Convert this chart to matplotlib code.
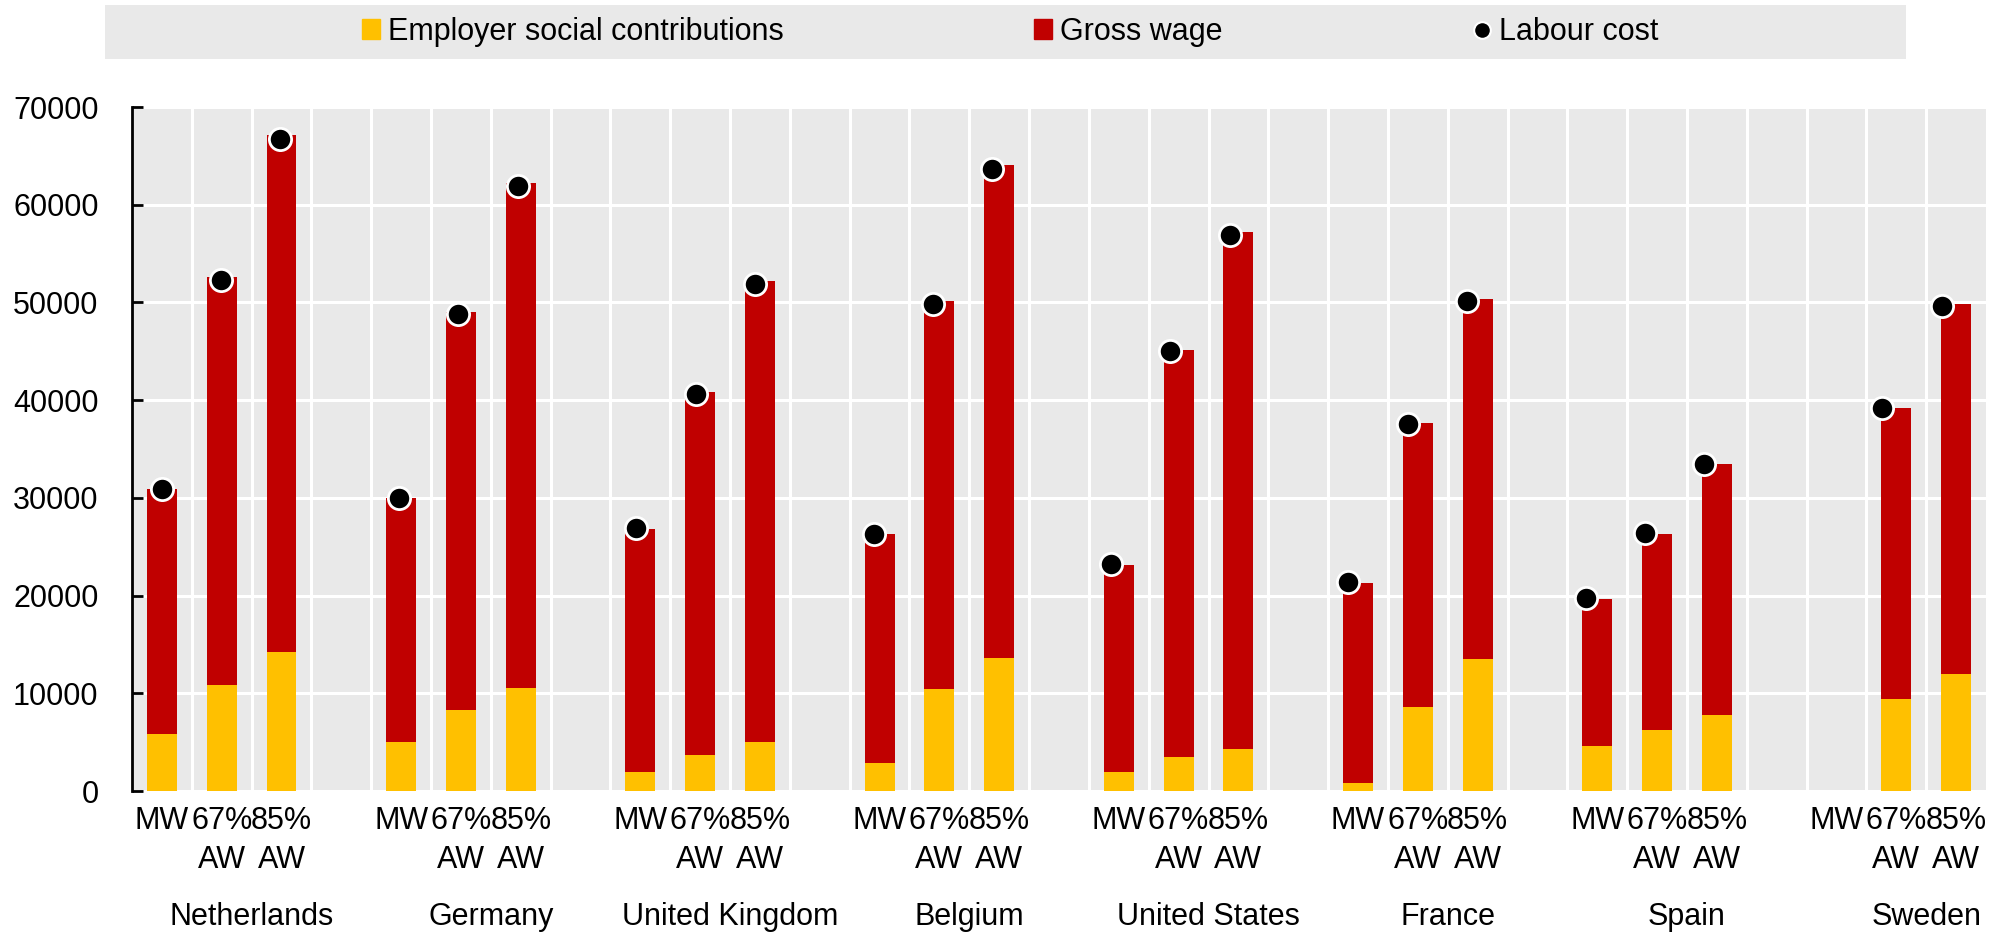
import numpy as np
import matplotlib
matplotlib.use('Agg')
from matplotlib import pyplot as plt
from matplotlib.patches import Patch, Rectangle
from matplotlib.lines import Line2D

# no Arial Narrow here, Liberation Sans is the closest look
plt.rcParams['font.family'] = ['Liberation Sans', 'DejaVu Sans']
plt.rcParams['font.size'] = 22

countries = ['Netherlands', 'Germany', 'United Kingdom', 'Belgium',
             'United States', 'France', 'Spain', 'Sweden']
levels = ['MW', '67%\nAW', '85%\nAW']

# values per wage level, one entry per country (Sweden has no minimum wage)
employer_mw = [5830, 5050, 1980, 2900, 1910, 850, 4640, np.nan]
employer_67 = [10850, 8290, 3680, 10410, 3510, 8600, 6210, 9450]
employer_85 = [14260, 10510, 5050, 13650, 4330, 13480, 7810, 11980]

gross_mw = [25090, 24950, 24850, 23420, 21270, 20450, 15020, np.nan]
gross_67 = [41720, 40740, 37130, 39710, 41660, 29070, 20140, 29790]
gross_85 = [52900, 51710, 47110, 50380, 52880, 36840, 25630, 37830]

labour_mw = [30920, 30000, 26930, 26350, 23280, 21400, 19800, np.nan]
labour_67 = [52330, 48820, 40670, 49880, 45040, 37600, 26420, 39210]
labour_85 = [66750, 61950, 51920, 63650, 56930, 50120, 33480, 49610]

YELLOW = '#FFC000'
RED = '#C00000'
GREY = '#E9E9E9'

# each country gets 4 slots: MW, 67% AW, 85% AW, gap
employer = np.array([employer_mw, employer_67, employer_85]).T.ravel()
gross = np.array([gross_mw, gross_67, gross_85]).T.ravel()
labour = np.array([labour_mw, labour_67, labour_85]).T.ravel()
x = np.array([4 * g + k for g in range(len(countries)) for k in range(3)])
xlabels = levels * len(countries)

fig = plt.figure(figsize=(19.96, 9.34), dpi=100)
ax = fig.add_axes([0.0661, 0.1531, 0.9289, 0.7323])
ax.set_facecolor(GREY)

ax.bar(x, employer, width=0.5, color=YELLOW, zorder=2)
ax.bar(x, gross, width=0.5, bottom=employer, color=RED, zorder=2)

ax.set_xlim(-0.5, 30.5)
ax.set_ylim(0, 70000)
ax.set_yticks(np.arange(0, 70001, 10000))
ax.set_xticks(x)
ax.set_xticklabels(xlabels)
for t in ax.get_xticklabels():
    t.set_linespacing(1.4)
ax.set_xticks(np.arange(0.5, 30.5, 1), minor=True)

ax.set_axisbelow(True)
ax.grid(axis='y', color='white', lw=2.2)
ax.grid(axis='x', which='minor', color='white', lw=2.2)

for s in ['top', 'right', 'bottom']:
    ax.spines[s].set_visible(False)
ax.spines['left'].set_linewidth(2)
ax.tick_params(axis='y', direction='in', length=8, width=2, pad=24)
ax.tick_params(axis='x', which='both', length=0, pad=11)

for g, name in enumerate(countries):
    ax.text(4 * g + 1.5, -0.162, name, transform=ax.get_xaxis_transform(),
            ha='center', va='top')

# labour cost dots sit on a slightly offset scale in the original
ax2 = ax.twiny()
ax2.set_xlim(-0.504, 30.746)
ax2.set_xticks([])
for s in ax2.spines.values():
    s.set_visible(False)
ax2.plot(x, labour, 'o', ls='', color='black', mec='white', ms=16, mew=2,
         clip_on=False, zorder=3)

# legend strip
fig.add_artist(Rectangle((0.0526, 0.9368), 0.9023, 0.0578,
                         transform=fig.transFigure, color=GREY, lw=0))
handles = [Patch(color=YELLOW), Patch(color=RED),
           Line2D([], [], marker='o', ls='', color='black', mec='white',
                  ms=12, mew=1.5)]
fig.legend(handles, ['Employer social contributions', 'Gross wage', 'Labour cost'],
           loc='center', bbox_to_anchor=(0.506, 0.966), ncol=3, frameon=False,
           handlelength=0.6, handleheight=0.6, handletextpad=0.25,
           columnspacing=8.2, borderpad=0, borderaxespad=0)

fig.savefig('out.png', dpi=100)
